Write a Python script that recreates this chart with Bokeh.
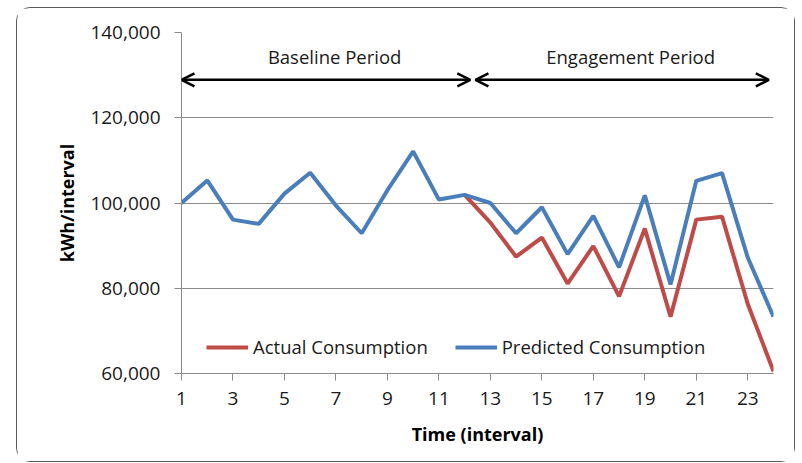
from bokeh.plotting import figure
from bokeh.models import (Range1d, FixedTicker, NumeralTickFormatter, Arrow, OpenHead,
                          Label, Legend, LegendItem)
from bokeh.embed import file_html
from bokeh.resources import INLINE

# ---- data ----
intervals = list(range(1, 25))
predicted = [100000, 105300, 96100, 95100, 102200, 107100, 99400, 92900, 103000, 112100,
             100800, 101900, 100000, 92900, 99000, 88000, 97000, 84900, 101800, 80900,
             105200, 107000, 87200, 73300]
actual_x = list(range(12, 25))
actual = [101900, 95400, 87400, 91900, 81100, 89900, 78100, 94000, 73300, 96100, 96800,
          76300, 60500]
x_ticks = [1, 3, 5, 7, 9, 11, 13, 15, 17, 19, 21, 23]
y_ticks = [60000, 80000, 100000, 120000, 140000]
baseline_span = [1, 12.22]
engagement_span = [12.42, 23.82]
period_arrow_level = 128900
period_label_level = 134300
period_labels = ["Baseline Period", "Engagement Period"]
period_label_x = [6.95, 18.45]

FONT = "Open Sans"
BLUE = "#4A7EBB"
RED = "#BE4B48"
GRID = "#8C8C8C"

p = figure(width=779, height=455, output_backend="svg", toolbar_location=None,
           x_range=Range1d(1, 24), y_range=Range1d(60000, 140000),
           min_border_left=164, min_border_right=23, min_border_top=24,
           min_border_bottom=90)
p.outline_line_color = None
p.background_fill_color = "white"
p.border_fill_color = "white"

# axes
p.xaxis.ticker = FixedTicker(ticks=x_ticks)
p.yaxis.ticker = FixedTicker(ticks=y_ticks)
p.yaxis.formatter = NumeralTickFormatter(format="0,0")
for ax in (p.xaxis[0], p.yaxis[0]):
    ax.axis_line_color = GRID
    ax.axis_line_width = 1
    ax.major_tick_line_color = GRID
    ax.major_tick_out = 7
    ax.major_tick_in = 0
    ax.minor_tick_line_color = None
    ax.major_label_text_font = FONT
    ax.major_label_text_font_size = "19px"
    ax.major_label_text_color = "#1a1a1a"
    ax.axis_label_text_font = FONT
    ax.axis_label_text_font_style = "bold"
    ax.axis_label_text_font_size = "18px"
    ax.axis_label_text_color = "#000000"
p.yaxis.axis_label = "kWh/interval"
p.xaxis.axis_label = "Time (interval)"
p.yaxis.major_label_standoff = 14
p.xaxis.major_label_standoff = 11
p.yaxis.axis_label_standoff = 8
p.xaxis.axis_label_standoff = 14

p.xgrid.grid_line_color = None
p.ygrid.grid_line_color = GRID
p.ygrid.grid_line_width = 1

# lines
r_act = p.line(actual_x, actual, line_color=RED, line_width=4)
r_pred = p.line(intervals, predicted, line_color=BLUE, line_width=4)

legend = Legend(items=[LegendItem(label="Actual Consumption", renderers=[r_act]),
                       LegendItem(label="Predicted Consumption", renderers=[r_pred])],
                orientation="horizontal", location=(25, 14), padding=0, margin=0,
                spacing=27, glyph_width=42, glyph_height=20, label_standoff=5,
                label_text_font=FONT, label_text_font_size="18.5px",
                label_text_color="#1a1a1a",
                background_fill_alpha=0, border_line_alpha=0)
p.add_layout(legend, "center")

# period arrows
for span in (baseline_span, engagement_span):
    p.add_layout(Arrow(x_start=span[0], x_end=span[1], y_start=period_arrow_level,
                       y_end=period_arrow_level, line_color="black", line_width=2.5,
                       start=OpenHead(size=13, line_width=2.5, line_color="black"),
                       end=OpenHead(size=13, line_width=2.5, line_color="black")))
for txt, xx in zip(period_labels, period_label_x):
    p.add_layout(Label(x=xx, y=period_label_level, text=txt, text_align="center",
                       text_baseline="middle", text_font=FONT, text_font_size="18.5px",
                       text_color="#1a1a1a"))

p.margin = (7, 0, 0, 16)
p.styles = {"border": "1.5px solid #5a5a5a", "border-radius": "14px"}

open("out.html", "w").write(file_html(p, INLINE))
